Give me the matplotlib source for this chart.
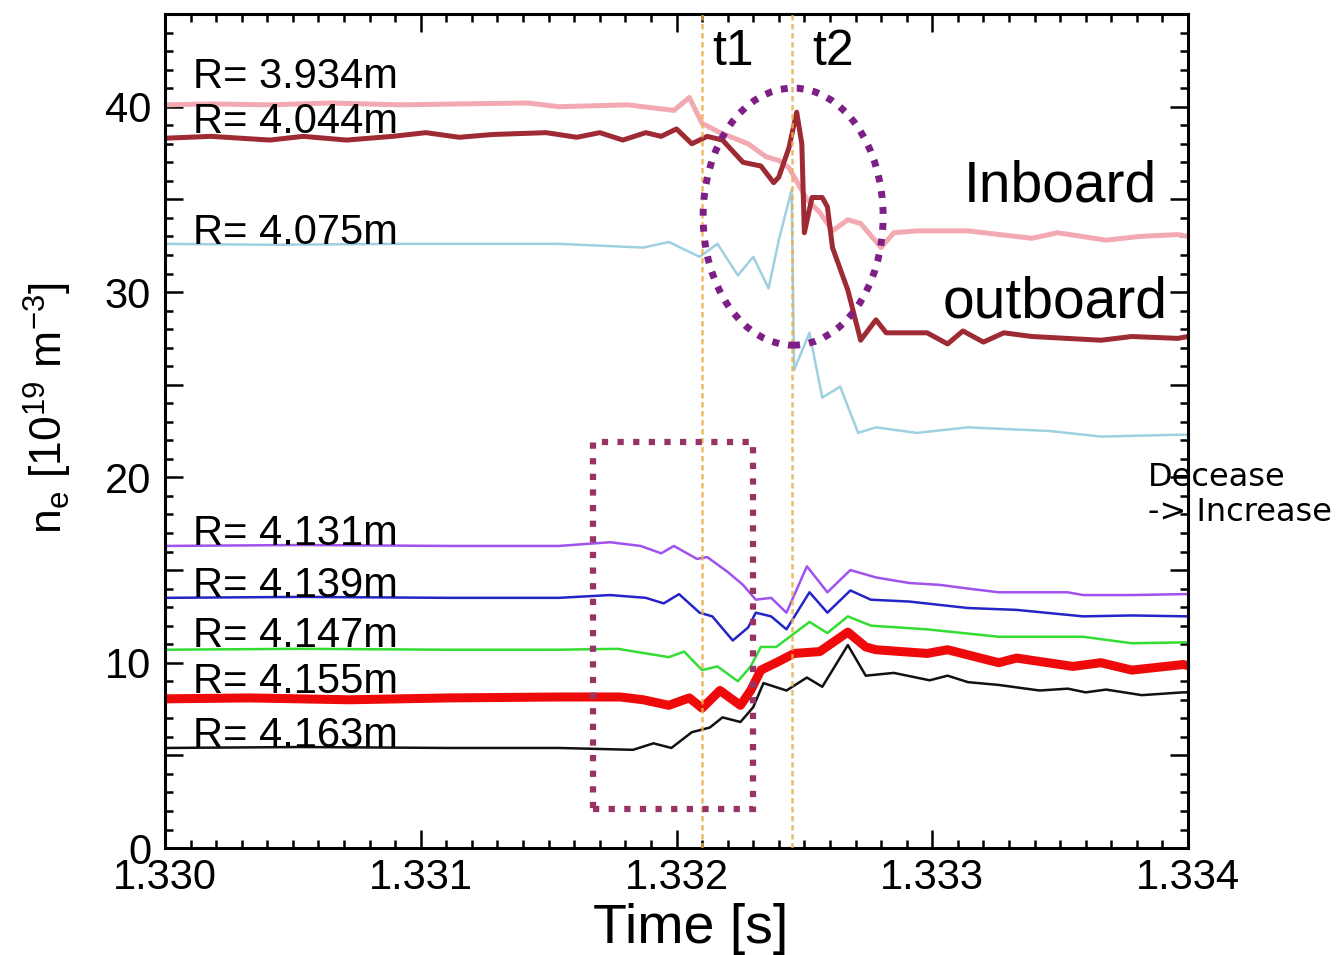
import matplotlib
matplotlib.use("Agg")
import matplotlib.pyplot as plt
from matplotlib.patches import Ellipse, Rectangle
from matplotlib.ticker import MultipleLocator, FuncFormatter

# ── DATA (time in s, density in 1e19 m^-3) ────────────────────────────────
t_3934 = [1.33000, 1.33018, 1.33041, 1.33065, 1.33092, 1.33115, 1.33142, 1.33154,
          1.33181, 1.33199, 1.33205, 1.33210, 1.33217, 1.33228, 1.33235, 1.33240,
          1.33244, 1.33251, 1.33256, 1.33261, 1.33267, 1.33272, 1.33280, 1.33285,
          1.33294, 1.33314, 1.33339, 1.33349, 1.33368, 1.33381, 1.33396, 1.33400]
ne_3934 = [40.1, 40.15, 40.1, 40.2, 40.1, 40.15, 40.2, 40.0,
           40.1, 39.8, 40.5, 39.1, 38.6, 38.0, 37.3, 37.1,
           36.7, 35.0, 34.3, 33.3, 33.9, 33.7, 32.4, 33.2,
           33.3, 33.3, 32.9, 33.2, 32.8, 33.0, 33.1, 33.0]

t_4044 = [1.33000, 1.33018, 1.33041, 1.33054, 1.33071, 1.33089, 1.33102, 1.33115,
          1.33128, 1.33149, 1.33161, 1.33170, 1.33179, 1.33188, 1.33194, 1.33200,
          1.33206, 1.33212, 1.33218, 1.33226, 1.33233, 1.33238, 1.33240, 1.33244,
          1.33247, 1.33249, 1.33250, 1.33253, 1.33257, 1.33259, 1.33261, 1.33267,
          1.33272, 1.33278, 1.33282, 1.33298, 1.33306, 1.33312, 1.33320, 1.33328,
          1.33339, 1.33366, 1.33378, 1.33396, 1.33400]
ne_4044 = [38.3, 38.4, 38.2, 38.4, 38.2, 38.4, 38.6, 38.35,
           38.5, 38.6, 38.35, 38.6, 38.2, 38.6, 38.4, 38.8,
           38.0, 38.4, 38.2, 37.0, 36.8, 35.9, 36.2, 37.8,
           39.7, 38.0, 33.2, 35.1, 35.1, 34.6, 32.4, 30.1,
           27.4, 28.5, 27.8, 27.8, 27.2, 27.9, 27.3, 27.8,
           27.6, 27.4, 27.6, 27.5, 27.6]

t_4075 = [1.33000, 1.33041, 1.33092, 1.33142, 1.33154, 1.33187, 1.33197, 1.33209,
          1.33216, 1.33224, 1.33230, 1.33236, 1.33240, 1.33245, 1.33246, 1.33252,
          1.33257, 1.33264, 1.33271, 1.33278, 1.33294, 1.33314, 1.33346, 1.33366,
          1.33396, 1.33400]
ne_4075 = [32.6, 32.55, 32.6, 32.6, 32.6, 32.4, 32.7, 31.9,
           32.6, 30.9, 31.9, 30.2, 32.8, 35.5, 25.8, 27.8,
           24.3, 24.9, 22.4, 22.7, 22.4, 22.7, 22.5, 22.2,
           22.3, 22.3]

t_4131 = [1.33000, 1.33053, 1.33111, 1.33154, 1.33174, 1.33186, 1.33194, 1.33199,
          1.33208, 1.33212, 1.33220, 1.33226, 1.33231, 1.33237, 1.33243, 1.33251,
          1.33259, 1.33268, 1.33278, 1.33291, 1.33303, 1.33314, 1.33326, 1.33353,
          1.33359, 1.33378, 1.33398, 1.33400]
ne_4131 = [16.3, 16.35, 16.3, 16.3, 16.5, 16.3, 15.9, 16.3,
           15.6, 15.7, 14.9, 14.2, 13.4, 13.5, 12.7, 15.2,
           13.8, 15.0, 14.6, 14.3, 14.2, 14.0, 13.8, 13.8,
           13.65, 13.65, 13.7, 13.7]

t_4139 = [1.33000, 1.33053, 1.33111, 1.33154, 1.33174, 1.33188, 1.33195, 1.33201,
          1.33209, 1.33214, 1.33222, 1.33228, 1.33231, 1.33237, 1.33243, 1.33252,
          1.33259, 1.33268, 1.33276, 1.33291, 1.33314, 1.33333, 1.33359, 1.33378,
          1.33400]
ne_4139 = [13.5, 13.55, 13.5, 13.5, 13.65, 13.5, 13.2, 13.7,
           12.7, 12.5, 11.2, 11.9, 12.7, 12.5, 11.8, 13.8,
           12.7, 13.9, 13.4, 13.3, 12.95, 12.85, 12.5, 12.55,
           12.5]

t_4147 = [1.33000, 1.33053, 1.33111, 1.33154, 1.33177, 1.33197, 1.33203, 1.33210,
          1.33216, 1.33224, 1.33229, 1.33233, 1.33239, 1.33252, 1.33259, 1.33267,
          1.33276, 1.33298, 1.33326, 1.33346, 1.33359, 1.33378, 1.33400]
ne_4147 = [10.7, 10.75, 10.7, 10.7, 10.75, 10.3, 10.6, 9.6,
           9.8, 9.0, 9.8, 10.85, 10.85, 12.2, 11.6, 12.5,
           12.0, 11.8, 11.4, 11.4, 11.4, 11.05, 11.1]

t_4155 = [1.33000, 1.33033, 1.33072, 1.33111, 1.33154, 1.33178, 1.33187, 1.33197,
          1.33205, 1.33210, 1.33217, 1.33225, 1.33229, 1.33233, 1.33239, 1.33246,
          1.33256, 1.33267, 1.33274, 1.33278, 1.33298, 1.33306, 1.33326, 1.33333,
          1.33355, 1.33366, 1.33378, 1.33398, 1.33400]
ne_4155 = [8.05, 8.1, 8.0, 8.1, 8.15, 8.15, 8.0, 7.7,
           8.1, 7.55, 8.5, 7.7, 8.5, 9.6, 10.0, 10.5,
           10.6, 11.65, 10.85, 10.7, 10.5, 10.7, 10.0, 10.25,
           9.8, 10.0, 9.6, 9.9, 9.85]

t_4163 = [1.33000, 1.33053, 1.33111, 1.33154, 1.33183, 1.33191, 1.33198, 1.33206,
          1.33213, 1.33218, 1.33225, 1.33230, 1.33234, 1.33243, 1.33251, 1.33257,
          1.33267, 1.33274, 1.33285, 1.33299, 1.33306, 1.33314, 1.33326, 1.33342,
          1.33353, 1.33360, 1.33368, 1.33382, 1.33398, 1.33400]
ne_4163 = [5.4, 5.45, 5.4, 5.4, 5.3, 5.65, 5.4, 6.25,
           6.5, 7.05, 6.8, 7.6, 8.9, 8.5, 9.2, 8.7,
           10.95, 9.3, 9.45, 9.05, 9.3, 8.95, 8.8, 8.5,
           8.6, 8.4, 8.55, 8.25, 8.4, 8.4]

labels = ["R= 3.934m", "R= 4.044m", "R= 4.075m", "R= 4.131m",
          "R= 4.139m", "R= 4.147m", "R= 4.155m", "R= 4.163m"]
label_y = [41.0, 38.6, 32.6, 16.35, 13.55, 10.85, 8.36, 5.45]

t1, t2 = 1.33210, 1.33245

# ── STYLE ─────────────────────────────────────────────────────────────────
plt.rcParams.update({
    "font.family": ["Liberation Sans", "DejaVu Sans"],
    "mathtext.fontset": "custom",
    "mathtext.rm": "Liberation Sans",
    "mathtext.it": "Liberation Sans:italic",
    "axes.linewidth": 2.2,
})

series = [
    (t_3934, ne_3934, "#F3A9B2", 3.6),
    (t_4044, ne_4044, "#9E2A33", 3.6),
    (t_4075, ne_4075, "#9ED0E2", 1.8),
    (t_4131, ne_4131, "#A052EE", 1.8),
    (t_4139, ne_4139, "#2424C8", 1.8),
    (t_4147, ne_4147, "#33DD33", 1.8),
    (t_4155, ne_4155, "#EE0A0A", 6.5),
    (t_4163, ne_4163, "#111111", 1.8),
]

fig = plt.figure(figsize=(13.44, 9.55), dpi=100)
ax = fig.add_axes([0.1228, 0.112, 0.7611, 0.8733])

for t, ne, col, lw in series:
    ax.plot(t, ne, color=col, lw=lw, solid_joinstyle="round", zorder=2)

for tv in (t1, t2):
    ax.axvline(tv, color="#E9B04E", lw=1.8, ls=(0, (2.2, 1.4)), alpha=0.85, zorder=3)

# curve labels
for txt, yv in zip(labels, label_y):
    ax.text(1.33011, yv, txt, fontsize=30, va="baseline", ha="left", zorder=4)

ax.text(1.33214, 42.25, "t1", fontsize=36, va="baseline", ha="left")
ax.text(1.33253, 42.25, "t2", fontsize=36, va="baseline", ha="left")
ax.text(1.33388, 34.86, "Inboard", fontsize=41, va="baseline", ha="right")
ax.text(1.33392, 28.6, "outboard", fontsize=41, va="baseline", ha="right")

# annotation shapes
ax.add_patch(Ellipse((1.332456, 34.07), 0.000704, 13.87, fill=False,
                     edgecolor="#7E1F86", lw=5, ls=(0, (1, 1.3)),
                     capstyle="butt", zorder=5))
ax.add_patch(Rectangle((1.331674, 2.10), 0.000625, 19.8, fill=False,
                       edgecolor="#993366", lw=4.5, ls=(0, (1, 1.5)),
                       capstyle="butt", zorder=5))

# ── AXES ──────────────────────────────────────────────────────────────────
ax.set_xlim(1.330, 1.334)
ax.set_ylim(0, 45)
ax.xaxis.set_major_locator(MultipleLocator(0.001))
ax.xaxis.set_minor_locator(MultipleLocator(0.0001))
ax.yaxis.set_major_locator(MultipleLocator(5))
ax.yaxis.set_minor_locator(MultipleLocator(1))
ax.xaxis.set_major_formatter(FuncFormatter(lambda v, p: f"{v:.3f}"))
ax.yaxis.set_major_formatter(FuncFormatter(
    lambda v, p: f"{v:.0f}" if abs(v % 10) < 1e-6 else ""))
ax.tick_params(which="both", direction="in", top=True, right=True, width=1.8)
ax.tick_params(which="major", length=13, labelsize=30)
ax.tick_params(which="minor", length=5.5)
ax.tick_params(axis="y", which="major", pad=10)
ax.tick_params(axis="x", which="major", pad=7)

ax.set_xlabel("Time [s]", fontsize=40)
ax.xaxis.set_label_coords(0.514, -0.066)
ax.set_ylabel(r"n$_{\mathrm{e}}$ [10$^{19}$ m$^{-3}$]", fontsize=32)
ax.yaxis.set_label_coords(-0.089, 0.528)

fig.text(1148 / 1344, 1 - 462 / 955, "Decease\n-> Increase", family="DejaVu Sans",
         fontsize=23, va="top", ha="left", linespacing=1.15)

fig.savefig("out.png", dpi=100)
